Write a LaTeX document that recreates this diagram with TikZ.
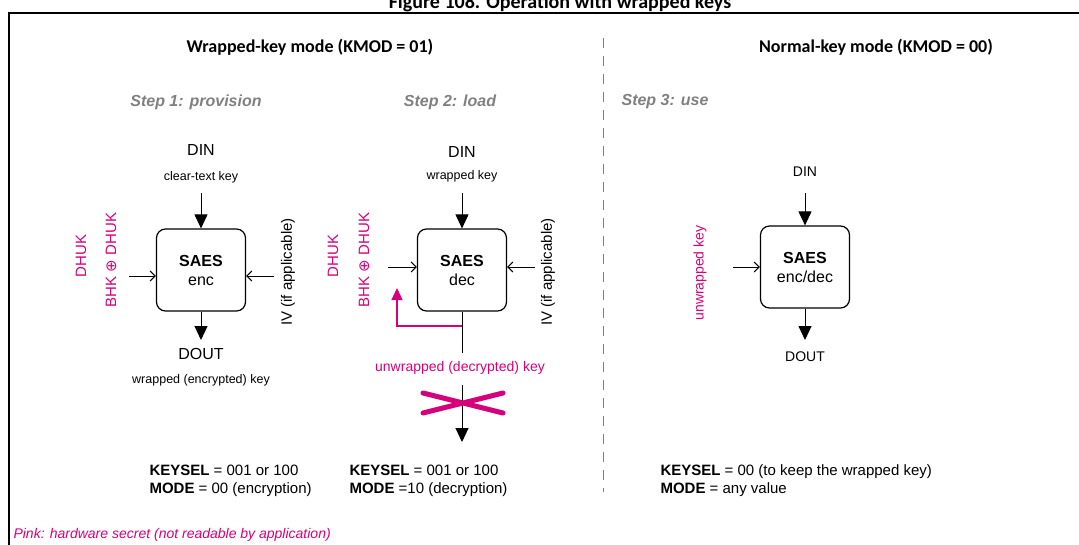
\documentclass[tikz,border=0pt]{standalone}
\usepackage{fontspec}
\setmainfont{Liberation Sans}
\newfontfamily\carfont{Carlito}
\newfontfamily\dvfont{DejaVu Sans}
\usetikzlibrary{arrows.meta}
\definecolor{pk}{RGB}{214,0,122}
\definecolor{gr}{RGB}{128,128,128}
\begin{document}
\begin{tikzpicture}[x=1pt,y=-1pt,
  sbox/.style={draw,line width=1.2pt,rounded corners=9pt,minimum width=89pt,minimum height=82pt,align=center,font=\fontsize{16}{19}\selectfont},
  bigt/.style={font=\fontsize{16}{18}\selectfont},
  smallt/.style={font=\fontsize{12.5}{14}\selectfont},
  hd/.style={font=\carfont\bfseries\fontsize{18}{20}\selectfont},
  stp/.style={font=\bfseries\itshape\fontsize{16}{18}\selectfont,text=gr},
  pkt/.style={text=pk,font=\fontsize{15}{17}\selectfont,rotate=90},
  rt/.style={font=\fontsize{15}{17}\selectfont,rotate=90},
  fillarr/.style={-{Triangle[length=14pt,width=13pt]},line width=1pt},
  openarr/.style={-{Straight Barb[length=5pt,width=10pt]},line width=1pt},
  cfg/.style={anchor=west,align=left,font=\fontsize{15}{18}\selectfont}]
\useasboundingbox (0,0) rectangle (1079,544);
\draw[line width=1.3pt] (9,560) -- (9,13) -- (1090,13);
\node[font=\carfont\bfseries\fontsize{20}{22}\selectfont] (title) at (560,3) {Figure 108. Operation with wrapped keys};
\node[hd] (h1) at (310,47) {Wrapped-key mode (KMOD = 01)};
\node[hd] (h2) at (876,47) {Normal-key mode (KMOD = 00)};
\draw[gr,line width=1pt,dash pattern=on 10pt off 8pt] (603,38) coordinate (d1) -- (603,492) coordinate (d2);
\node[stp] (s1) at (196,102) {Step 1: provision};
\node[stp] (s2) at (450,102) {Step 2: load};
\node[stp] (s3) at (665,102) {Step 3: use};
% box 1
\node[sbox] (b1) at (201,270) {\textbf{SAES}\\enc};
\node[bigt] (din1) at (201,150) {DIN};
\node[smallt] (ct) at (201,177) {clear-text key};
\coordinate (i1) at (201,193);
\draw[fillarr] (i1) -- (b1.north);
\coordinate (l1) at (129,276);
\draw[openarr] (l1) -- (l1-|b1.west);
\coordinate (r1) at (274,276);
\draw[openarr] (r1) -- (r1-|b1.east);
\node[pkt] (dh1) at (81,256) {DHUK};
\node[pkt] (bh1) at (111,260) {BHK {\dvfont ⊕} DHUK};
\node[rt] (iv1) at (288,272) {IV (if applicable)};
\coordinate (o1) at (201,340);
\draw[fillarr] (b1.south) -- (o1);
\node[bigt] (dout1) at (201,354) {DOUT};
\node[smallt] (we) at (201,380) {wrapped (encrypted) key};
\node[cfg] (c1) at (146,481) {\textbf{KEYSEL} = 001 or 100\\\textbf{MODE} = 00 (encryption)};
% box 2
\node[sbox] (b2) at (462,270) {\textbf{SAES}\\dec};
\node[bigt] (din2) at (462,152) {DIN};
\node[smallt] (wk) at (462,176) {wrapped key};
\coordinate (i2) at (462,193);
\draw[fillarr] (i2) -- (b2.north);
\coordinate (l2) at (388,267);
\draw[openarr] (l2) -- (l2-|b2.west);
\coordinate (r2) at (535,267);
\draw[openarr] (r2) -- (r2-|b2.east);
\node[pkt] (dh2) at (333,256) {DHUK};
\node[pkt] (bh2) at (364,260) {BHK {\dvfont ⊕} DHUK};
\node[rt] (iv2) at (548,272) {IV (if applicable)};
\coordinate (o2a) at (462,353);
\draw[line width=1pt] (b2.south) -- (o2a);
\coordinate (fb) at (462,326);
\coordinate (fbt) at (397,288);
\draw[pk,line width=1.2pt,-{Triangle[length=12pt,width=11pt]}] (fb) -| (fbt);
\node[text=pk,font=\fontsize{14}{16}\selectfont] (uk) at (460,368) {unwrapped (decrypted) key};
\coordinate (o2b) at (462,385);
\coordinate (o2c) at (462,442);
\draw[fillarr] (o2b) -- (o2c);
\coordinate (xa) at (423,393); \coordinate (xb) at (503,413);
\coordinate (xc) at (423,413); \coordinate (xd) at (503,393);
\draw[pk,line width=5pt,line cap=round] (xa) -- (xb) (xc) -- (xd);
\node[cfg] (c2) at (346,481) {\textbf{KEYSEL} = 001 or 100\\\textbf{MODE} =10 (decryption)};
% box 3
\node[sbox] (b3) at (805,267) {\textbf{SAES}\\enc/dec};
\node[font=\fontsize{14}{16}\selectfont] (din3) at (805,172) {DIN};
\coordinate (i3) at (805,193);
\draw[fillarr] (i3) -- (b3.north);
\coordinate (l3) at (733,267);
\draw[openarr] (l3) -- (l3-|b3.west);
\node[pkt,font=\fontsize{14}{16}\selectfont] (uk3) at (700,273) {unwrapped key};
\coordinate (o3) at (805,340);
\draw[fillarr] (b3.south) -- (o3);
\node[font=\fontsize{14}{16}\selectfont] (dout3) at (805,357) {DOUT};
\node[cfg] (c3) at (657,481) {\textbf{KEYSEL} = 00 (to keep the wrapped key)\\\textbf{MODE} = any value};
\node[anchor=west,text=pk,font=\itshape\fontsize{14}{16}\selectfont] (note) at (10,535) {Pink: hardware secret (not readable by application)};
\end{tikzpicture}
\end{document}
